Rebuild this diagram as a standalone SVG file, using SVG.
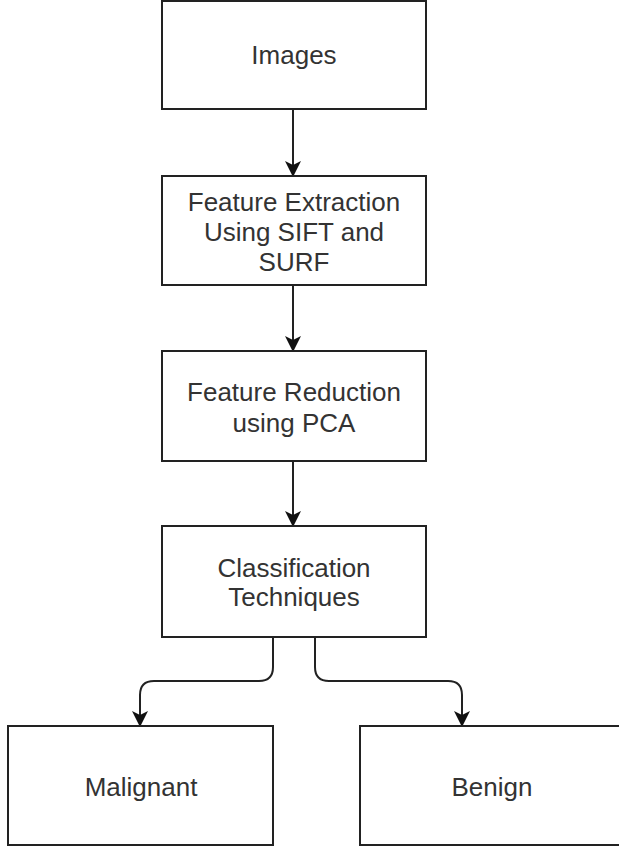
<svg xmlns="http://www.w3.org/2000/svg" width="619" height="850" viewBox="0 0 619 850">
<style>
.box{fill:#ffffff;stroke:#222222;stroke-width:2}
.lbl{font-family:"Liberation Sans",Arial,sans-serif;font-size:26px;fill:#333333;text-anchor:middle;dominant-baseline:central}
.edge{fill:none;stroke:#222222;stroke-width:2;marker-end:url(#arr)}
</style>
<defs>
<marker id="arr" markerUnits="userSpaceOnUse" viewBox="0 0 16 16" markerWidth="16" markerHeight="16" refX="15" refY="8" orient="auto">
<path d="M0,0 L16,8 L0,16 L4,8 Z" fill="#111111"/>
</marker>
</defs>
<rect width="619" height="850" fill="#ffffff"/>
<g id="connectors">
<path class="edge" d="M293,109 L293,176"/>
<path class="edge" d="M293,285 L293,351"/>
<path class="edge" d="M293,461 L293,526"/>
<path class="edge" d="M273,637 L273,667 Q273,681 259,681 L154,681 Q140,681 140,695 L140,726"/>
<path class="edge" d="M315,637 L315,667 Q315,681 329,681 L448,681 Q462,681 462,695 L462,726"/>
</g>
<g id="images">
<rect class="box" x="162" y="1" width="264" height="108"/>
<text class="lbl" x="294" y="55">Images</text>
</g>
<g id="feature-extraction">
<rect class="box" x="162" y="176" width="264" height="109"/>
<text class="lbl" x="294" y="202">Feature Extraction</text>
<text class="lbl" x="294" y="232">Using SIFT and</text>
<text class="lbl" x="294" y="262">SURF</text>
</g>
<g id="feature-reduction">
<rect class="box" x="162" y="351" width="264" height="110"/>
<text class="lbl" x="294" y="392">Feature Reduction</text>
<text class="lbl" x="294" y="423">using PCA</text>
</g>
<g id="classification">
<rect class="box" x="162" y="526" width="264" height="111"/>
<text class="lbl" x="294" y="568">Classification</text>
<text class="lbl" x="294" y="597">Techniques</text>
</g>
<g id="malignant">
<rect class="box" x="8" y="726" width="265" height="119"/>
<text class="lbl" x="141" y="787">Malignant</text>
</g>
<g id="benign">
<rect class="box" x="360" y="726" width="265" height="119"/>
<text class="lbl" x="492" y="787">Benign</text>
</g>
</svg>
